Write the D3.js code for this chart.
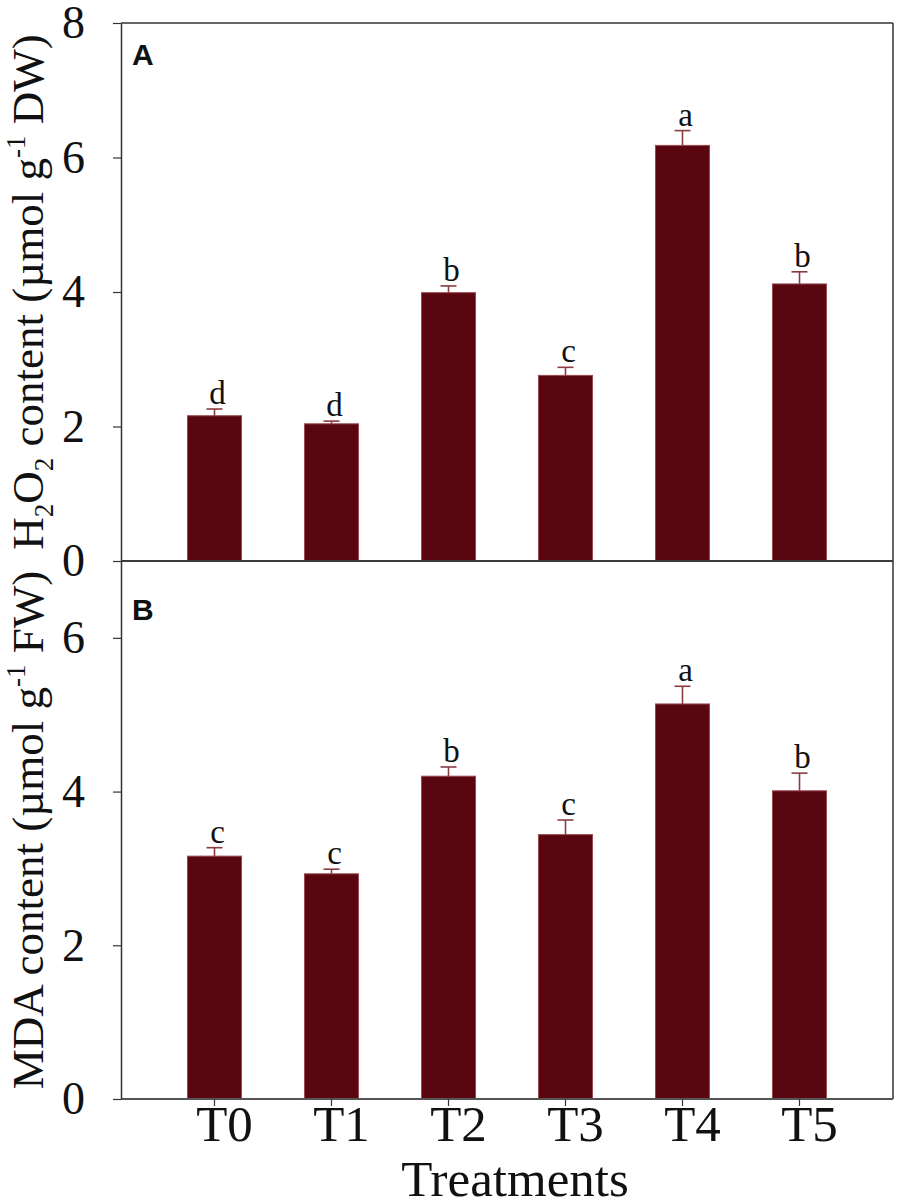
<!DOCTYPE html>
<html>
<head>
<meta charset="utf-8">
<script src="https://cdn.jsdelivr.net/npm/d3@7"></script>
<style>
  body { margin: 0; background: #fff; }
  svg { display: block; }
</style>
</head>
<body>
<script>
// chart values
const treatments = ["T0", "T1", "T2", "T3", "T4", "T5"];

const h2o2 = [2.16, 2.04, 3.99, 2.76, 6.18, 4.12];
const h2o2Err = [0.10, 0.04, 0.10, 0.12, 0.22, 0.18];
const h2o2Letters = ["d", "d", "b", "c", "a", "b"];
const h2o2Ticks = [0, 2, 4, 6, 8];

const mda = [3.16, 2.93, 4.20, 3.44, 5.14, 4.01];
const mdaErr = [0.11, 0.06, 0.12, 0.19, 0.23, 0.23];
const mdaLetters = ["c", "c", "b", "c", "a", "b"];
const mdaTicks = [0, 2, 4, 6];

let width = 900, height = 1202
let left = 121, right = 893

const serif = "'Liberation Serif', 'Times New Roman', serif"
const barFill = "#5a0610", barStroke = "#9a4a50", errColor = "#8a3c40"

let svg = d3.select("body").append("svg")
    .attr("width", width)
    .attr("height", height)

// shared band scale for both panels
let x = d3.scaleBand()
    .domain(treatments)
    .range([156, 858])
    .paddingInner(0.538)
    .paddingOuter(0.269)

// one panel = frame + y axis + bars + error bars + letters
function panel(cfg) {
    let y = d3.scaleLinear().domain(cfg.domain).range([cfg.bottom, cfg.top])
    let g = svg.append("g")

    let rows = treatments.map((t, i) => ({ t: t, v: cfg.values[i], e: cfg.errs[i], l: cfg.letters[i] }))

    // bars
    g.append("g").selectAll("rect")
        .data(rows)
        .join("rect")
        .attr("x", d => x(d.t))
        .attr("width", x.bandwidth())
        .attr("y", d => y(d.v))
        .attr("height", d => y(0) - y(d.v))
        .attr("fill", barFill)
        .attr("stroke", barStroke)
        .attr("stroke-width", 1)

    // upper error bars with caps
    let eb = g.append("g").attr("stroke", errColor).attr("stroke-width", 1.6)
    eb.selectAll("line.v")
        .data(rows)
        .join("line")
        .attr("class", "v")
        .attr("x1", d => x(d.t) + x.bandwidth() / 2)
        .attr("x2", d => x(d.t) + x.bandwidth() / 2)
        .attr("y1", d => y(d.v))
        .attr("y2", d => y(d.v + d.e))
    eb.selectAll("line.c")
        .data(rows)
        .join("line")
        .attr("class", "c")
        .attr("x1", d => x(d.t) + x.bandwidth() / 2 - 8)
        .attr("x2", d => x(d.t) + x.bandwidth() / 2 + 8)
        .attr("y1", d => y(d.v + d.e))
        .attr("y2", d => y(d.v + d.e))

    // significance letters
    g.append("g").selectAll("text")
        .data(rows)
        .join("text")
        .attr("x", d => x(d.t) + x.bandwidth() / 2 + 3)
        .attr("y", d => y(d.v + d.e) - 5)
        .attr("text-anchor", "middle")
        .attr("font-family", serif)
        .attr("font-size", 33)
        .attr("fill", "#111")
        .text(d => d.l)

    // frame: right and top lines
    g.append("line")
        .attr("x1", right).attr("x2", right)
        .attr("y1", cfg.top).attr("y2", cfg.bottom)
        .attr("stroke", "#333").attr("stroke-width", 1.5)
    g.append("line")
        .attr("x1", left).attr("x2", right)
        .attr("y1", cfg.top).attr("y2", cfg.top)
        .attr("stroke", "#333").attr("stroke-width", 1.5)
    // bottom line
    g.append("line")
        .attr("x1", left).attr("x2", right)
        .attr("y1", cfg.bottom).attr("y2", cfg.bottom)
        .attr("stroke", "#555").attr("stroke-width", 2)

    // y axis
    let ya = g.append("g")
        .attr("transform", `translate(${left},0)`)
        .call(d3.axisLeft(y).tickValues(cfg.ticks).tickFormat(d3.format("d"))
            .tickSize(8).tickSizeOuter(0).tickPadding(28))
    ya.select(".domain").attr("stroke", "#333").attr("stroke-width", 1.5)
    ya.selectAll(".tick line").attr("stroke", "#333").attr("stroke-width", 1.2)
    ya.selectAll(".tick text")
        .attr("font-family", serif)
        .attr("font-size", 46)
        .attr("fill", "#111")

    // panel letter
    g.append("text")
        .attr("x", 132)
        .attr("y", cfg.top + cfg.labelDy)
        .attr("font-family", "'Liberation Sans', Arial, sans-serif")
        .attr("font-weight", "bold")
        .attr("font-size", 30)
        .attr("fill", "#111")
        .text(cfg.label)

    // rotated y title
    let title = g.append("text")
        .attr("transform", `translate(43,${(cfg.top + cfg.bottom) / 2}) rotate(-90)`)
        .attr("text-anchor", "middle")
        .attr("font-family", serif)
        .attr("font-size", 45)
        .attr("fill", "#111")
    cfg.title(title)

    return { y: y, g: g }
}

let A = panel({
    domain: [0, 8], top: 23, bottom: 561,
    values: h2o2, errs: h2o2Err, letters: h2o2Letters, ticks: h2o2Ticks,
    label: "A", labelDy: 42,
    title: t => {
        t.append("tspan").text("H")
        t.append("tspan").attr("font-size", 27).attr("dy", 10).text("2")
        t.append("tspan").attr("dy", -10).text("O")
        t.append("tspan").attr("font-size", 27).attr("dy", 10).text("2")
        t.append("tspan").attr("dy", -10).text(" content (µmol g")
        t.append("tspan").attr("font-size", 27).attr("dy", -18).text("-1")
        t.append("tspan").attr("dy", 18).text(" DW)")
    }
})

let B = panel({
    domain: [0, 7], top: 561, bottom: 1099,
    values: mda, errs: mdaErr, letters: mdaLetters, ticks: mdaTicks,
    label: "B", labelDy: 59,
    title: t => {
        t.append("tspan").text("MDA content (µmol g")
        t.append("tspan").attr("font-size", 27).attr("dy", -18).text("-1")
        t.append("tspan").attr("dy", 18).text(" FW)")
    }
})

// bottom x axis on panel B
let xa = svg.append("g")
    .attr("transform", `translate(0,1099)`)
    .call(d3.axisBottom(x).tickSize(7).tickSizeOuter(0).tickPadding(-1))
xa.select(".domain").remove()
xa.selectAll(".tick line").attr("stroke", "#333").attr("stroke-width", 1.2)
xa.selectAll(".tick text")
    .attr("font-family", serif)
    .attr("font-size", 51)
    .attr("fill", "#111")
    .attr("dx", 10)

svg.append("text")
    .attr("x", (left + right) / 2 + 8)
    .attr("y", 1196)
    .attr("text-anchor", "middle")
    .attr("font-family", serif)
    .attr("font-size", 51)
    .attr("fill", "#111")
    .text("Treatments")
</script>
</body>
</html>
